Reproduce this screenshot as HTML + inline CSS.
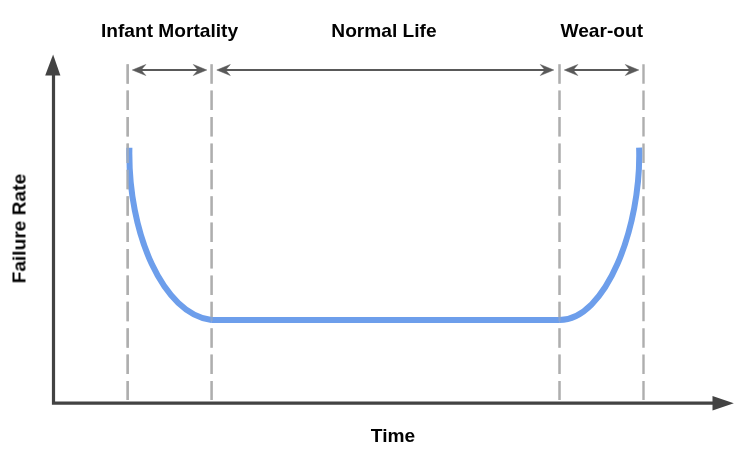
<!DOCTYPE html>
<html>
<head>
<meta charset="utf-8">
<title>Bathtub Curve</title>
<style>
  html, body { margin: 0; padding: 0; background: #ffffff; }
  body { width: 744px; height: 455px; overflow: hidden; font-family: "Liberation Sans", sans-serif; }
  svg { display: block; }
  text { font-family: "Liberation Sans", sans-serif; font-weight: bold; font-size: 19.15px; fill: #000000; }
</style>
</head>
<body>
<svg width="744" height="455" viewBox="0 0 744 455">
  <rect x="0" y="0" width="744" height="455" fill="#ffffff"/>

  <!-- dashed region separators -->
  <g stroke="#aeaeae" stroke-width="2.4" stroke-dasharray="19.5 6.9" fill="none">
    <line x1="127.7" y1="64.2" x2="127.7" y2="400"/>
    <line x1="211.6" y1="64.2" x2="211.6" y2="400"/>
    <line x1="559.5" y1="64.2" x2="559.5" y2="400"/>
    <line x1="643.5" y1="64.2" x2="643.5" y2="400"/>
  </g>

  <!-- bathtub curve -->
  <g stroke="#6d9eeb" stroke-width="6" fill="none" stroke-linecap="butt">
    <path d="M129.4,147.7 C127.7,233.9 163.5,314.4 211.5,320"/>
    <path d="M211.2,320 L559.8,320"/>
    <path d="M559.5,320 C605.5,320 641.6,227.6 639.1,147.6"/>
  </g>

  <!-- dashes faintly over the curve -->
  <g stroke="#aeaeae" stroke-width="2.4" stroke-dasharray="19.5 6.9" fill="none">
    <line x1="127.7" y1="64.2" x2="127.7" y2="400" opacity="0.7"/>
    <line x1="211.6" y1="64.2" x2="211.6" y2="400" opacity="0.35"/>
    <line x1="559.5" y1="64.2" x2="559.5" y2="400" opacity="0.35"/>
  </g>

  <!-- axes -->
  <g stroke="#434343" stroke-width="3.2" fill="none" stroke-linejoin="miter">
    <path d="M53.5,74 L53.5,403.2 L714,403.2"/>
  </g>
  <polygon points="53.1,54.6 60.4,75.6 45.2,75.6" fill="#434343"/>
  <polygon points="733.8,403.15 712.5,395.9 712.5,410.4" fill="#434343"/>

  <!-- span arrows -->
  <g stroke="#595959" stroke-width="2" fill="none">
    <path d="M138.3,70.0 L200.8,70.0"/>
    <path d="M222.8,70.0 L547.8,70.0"/>
    <path d="M570.3,70.0 L632.8,70.0"/>
  </g>
  <g fill="#595959" stroke="#595959" stroke-width="0.5" stroke-linejoin="miter">
    <polygon points="132.3,70.0 145.8,64.5 141.1,70.0 145.8,75.5"/>
    <polygon points="206.8,70.0 193.3,64.5 198.0,70.0 193.3,75.5"/>
    <polygon points="216.8,70.0 230.3,64.5 225.6,70.0 230.3,75.5"/>
    <polygon points="553.8,70.0 540.3,64.5 545.0,70.0 540.3,75.5"/>
    <polygon points="564.3,70.0 577.8,64.5 573.1,70.0 577.8,75.5"/>
    <polygon points="638.8,70.0 625.3,64.5 630.0,70.0 625.3,75.5"/>
  </g>

  <!-- labels -->
  <g style="opacity:0.999">
  <text x="169.5" y="36.9" text-anchor="middle">Infant Mortality</text>
  <text x="384" y="36.9" text-anchor="middle">Normal Life</text>
  <text x="601.8" y="36.9" text-anchor="middle">Wear-out</text>
  <text x="393" y="441.8" text-anchor="middle">Time</text>
  <text transform="translate(25.5,228.6) rotate(-90)" text-anchor="middle">Failure Rate</text>
  </g>
</svg>
</body>
</html>
